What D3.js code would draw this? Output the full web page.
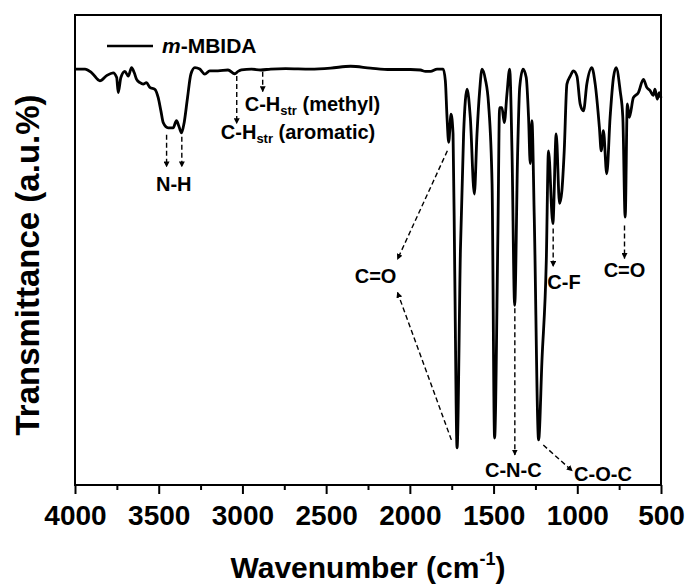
<!DOCTYPE html>
<html>
<head>
<meta charset="utf-8">
<script src="https://cdn.jsdelivr.net/npm/d3@7"></script>
<style>
  html, body { margin: 0; padding: 0; background: #fff; }
  svg { display: block; font-family: "Liberation Sans", Arial, sans-serif; }
</style>
</head>
<body>
<svg id="chart" width="690" height="588"></svg>
<script>
// ---- data ----
const wavenumber = [4000,3940,3900,3851,3811,3772,3751,3742,3726,3702,3682,3662,3646,3632,3612,3593,3573,3553,3523,3503,3487,3473,3444,3414,3394,3380,3364,3348,3328,3308,3284,3255,3225,3195,3146,3086,3046,3026,3006,2946,2891,2831,2742,2593,2473,2354,2235,2116,1996,1937,1907,1877,1837,1801,1788,1778,1768,1754,1742,1732,1718,1698,1679,1658,1639,1615,1599,1583,1569,1549,1530,1509,1494,1474,1464,1450,1436,1420,1404,1390,1374,1356,1344,1324,1305,1291,1281,1271,1257,1231,1211,1185,1172,1146,1126,1106,1092,1078,1062,1042,1023,1002,983,963,943,913,893,868,857,844,824,804,784,768,744,728,714,701,689,665,635,605,585,565,546,536,522,510,500];
const transmittance = [88.5,88.5,87.7,86.0,87.1,87.7,86.7,83.5,86.7,88.0,87.0,88.8,87.7,86.3,85.6,85.3,85.6,84.6,84.2,82.4,79.6,77.1,76.0,76.0,77.5,76.4,74.9,77.1,82.4,87.4,88.8,88.5,87.4,88.1,88.1,88.3,87.5,88.0,88.3,88.5,88.3,88.5,88.6,88.5,88.7,89.1,88.7,88.4,88.4,88.3,88.0,88.0,88.5,88.5,86.0,78.2,72.9,78.9,74.7,45.6,7.9,49.9,74.7,84.2,78.2,61.9,74.7,83.9,88.5,86.3,81.1,64.1,10.0,54.1,80.3,80.3,77.1,83.2,88.5,71.1,38.2,71.1,84.6,88.5,86.7,78.2,68.4,77.5,57.0,9.6,26.5,47.8,71.1,55.6,74.7,59.9,62.6,71.1,85.3,87.0,88.1,87.0,81.1,79.6,85.3,88.8,85.3,76.1,71.1,75.4,66.2,78.2,86.7,88.8,83.9,78.2,57.0,81.1,78.2,82.4,83.5,86.3,84.6,83.9,82.9,84.2,82.1,83.5,82.4];

const seriesName = "m-MBIDA";
const tickLabels = [4000, 3500, 3000, 2500, 2000, 1500, 1000, 500];
const minorTicks = [3750, 3250, 2750, 2250, 1750, 1250, 750];
const xTitle = "Wavenumber (cm";
const yTitle = "Transmittance (a.u.%)";

// annotation texts
const labelText   = ["N-H", "C-H", "C-H", "C=O", "C=O", "C-F", "C-N-C", "C-O-C"];
const labelSub    = ["", "str", "str", "", "", "", "", ""];
const labelRest   = ["", " (aromatic)", " (methyl)", "", "", "", "", ""];
const labelWn     = [3410, 3129, 2986, 2205, 718, 1179, 1382, 1019];
const labelT      = [62.6, 73.7, 79.6, 42.9, 44.2, 41.8, 1.7, 0.9];
const labelAnchor = ["middle", "start", "start", "middle", "middle", "start", "middle", "start"];

// dashed arrows: from (wn0,t0) to (wn1,t1)
const arrowWn0 = [3453, 3362, 3034, 2879, 1776, 1752, 1373, 1203, 1144, 718];
const arrowT0  = [74.5, 74.1, 87.0, 87.9, 71.1, 9.6, 37.6, 8.5, 54.6, 55.2];
const arrowWn1 = [3453, 3362, 3034, 2879, 2074, 2074, 1373, 1030, 1144, 718];
const arrowT1  = [67.7, 67.7, 76.9, 83.7, 48.0, 41.0, 6.4, 3.0, 46.5, 48.2];

(function () {
const svg = d3.select("#chart");
const mL = 75, mR = 661, mT = 15, mB = 485;

const x = d3.scaleLinear().domain([4000, 500]).range([mL, mR]);
const y = d3.scaleLinear().domain([0, 100]).range([mB, mT]);

const defs = svg.append("defs");
defs.append("marker")
  .attr("id", "ah").attr("viewBox", "0 0 10 10")
  .attr("refX", 9).attr("refY", 5)
  .attr("markerWidth", 6).attr("markerHeight", 6)
  .attr("markerUnits", "userSpaceOnUse")
  .attr("orient", "auto")
  .append("path").attr("d", "M0,0 L10,5 L0,10 z").attr("fill", "#000");

// frame
svg.append("rect")
  .attr("x", mL).attr("y", mT)
  .attr("width", mR - mL).attr("height", mB - mT)
  .attr("fill", "none").attr("stroke", "#000").attr("stroke-width", 2);

// x axis
const gx = svg.append("g").attr("transform", `translate(0,${mB})`);
gx.call(d3.axisBottom(x).tickValues(tickLabels).tickSize(9).tickFormat(d3.format("d")));
gx.select(".domain").remove();
gx.selectAll(".tick line").attr("stroke", "#000").attr("stroke-width", 2);
gx.selectAll(".tick text")
  .attr("y", 40).attr("dy", 0)
  .attr("font-size", 28).attr("font-weight", "bold").attr("fill", "#000")
  .attr("font-family", "'Liberation Sans', Arial, sans-serif");

const gm = svg.append("g").attr("transform", `translate(0,${mB})`);
gm.call(d3.axisBottom(x).tickValues(minorTicks).tickSize(5).tickFormat(""));
gm.select(".domain").remove();
gm.selectAll(".tick line").attr("stroke", "#000").attr("stroke-width", 2);

// spectrum
const data = wavenumber.map((w, i) => ({ w, t: transmittance[i] }));
const line = d3.line().x(d => x(d.w)).y(d => y(d.t)).curve(d3.curveMonotoneX);
svg.append("path").datum(data)
  .attr("d", line)
  .attr("fill", "none").attr("stroke", "#000")
  .attr("stroke-width", 2.8).attr("stroke-linejoin", "round");

// legend
svg.append("line")
  .attr("x1", 107).attr("x2", 153).attr("y1", 46).attr("y2", 46)
  .attr("stroke", "#000").attr("stroke-width", 2.5);
const lt = svg.append("text").attr("x", 162).attr("y", 53)
  .attr("font-size", 21).attr("font-weight", "bold");
lt.append("tspan").attr("font-style", "italic").text(seriesName.slice(0, 1));
lt.append("tspan").text(seriesName.slice(1));

// arrows
arrowWn0.forEach((w0, i) => {
  svg.append("line")
    .attr("x1", x(w0)).attr("y1", y(arrowT0[i]))
    .attr("x2", x(arrowWn1[i])).attr("y2", y(arrowT1[i]))
    .attr("stroke", "#000").attr("stroke-width", 1.4)
    .attr("stroke-dasharray", "5,3")
    .attr("marker-end", "url(#ah)");
});

// labels
labelText.forEach((t, i) => {
  const tx = svg.append("text")
    .attr("x", x(labelWn[i])).attr("y", y(labelT[i]))
    .attr("text-anchor", labelAnchor[i])
    .attr("font-size", 20).attr("font-weight", "bold").attr("fill", "#000");
  tx.append("tspan").text(t);
  if (labelSub[i]) {
    tx.append("tspan").attr("font-size", 13).attr("dy", 4).text(labelSub[i]);
    tx.append("tspan").attr("dy", -4).text(labelRest[i]);
  }
});

// axis titles
const xt = svg.append("text")
  .attr("x", (mL + mR) / 2).attr("y", 578)
  .attr("text-anchor", "middle")
  .attr("font-size", 30).attr("font-weight", "bold");
xt.append("tspan").text(xTitle);
xt.append("tspan").attr("font-size", 18).attr("dy", -13).text("-1");
xt.append("tspan").attr("dy", 13).text(")");

svg.append("text")
  .attr("transform", "translate(39,265) rotate(-90)")
  .attr("text-anchor", "middle")
  .attr("font-size", 33).attr("font-weight", "bold")
  .text(yTitle);
})();
</script>
</body>
</html>
